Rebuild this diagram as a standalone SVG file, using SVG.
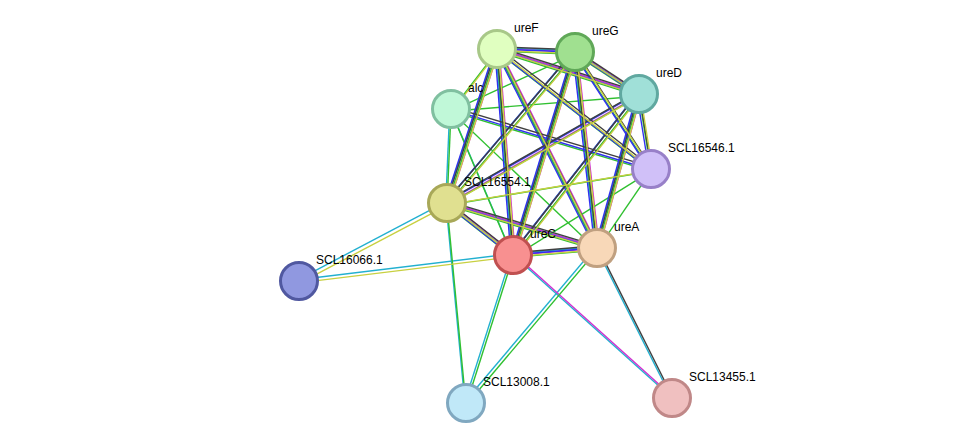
<svg xmlns="http://www.w3.org/2000/svg" width="975" height="448" viewBox="0 0 975 448">
<style>
line{stroke-width:1.4;fill:none}
.c line{stroke:#22b0d0}.m line{stroke:#d030d0}.g line{stroke:#30c030}.b line{stroke:#3030f0}.k line{stroke:#404040}.y line{stroke:#c8d040}
circle{stroke-width:3}
text{font-family:"Liberation Sans",Arial,sans-serif;font-size:12px;fill:#000}
</style>
<rect width="975" height="448" fill="#fff"/>
<g id="connectors">
<g class="c" transform="translate(-1.2,-1.2)">
<line x1="497" y1="49" x2="575" y2="52"/><line x1="497" y1="49" x2="639" y2="94"/><line x1="575" y1="52" x2="639" y2="94"/>
<line x1="497" y1="49" x2="513" y2="255"/><line x1="575" y1="52" x2="513" y2="255"/><line x1="639" y1="94" x2="513" y2="255"/>
<line x1="497" y1="49" x2="597" y2="248"/><line x1="575" y1="52" x2="597" y2="248"/><line x1="639" y1="94" x2="597" y2="248"/>
<line x1="513" y1="255" x2="597" y2="248"/><line x1="497" y1="49" x2="447" y2="203"/><line x1="575" y1="52" x2="447" y2="203"/>
<line x1="639" y1="94" x2="447" y2="203"/><line x1="447" y1="203" x2="513" y2="255"/><line x1="447" y1="203" x2="597" y2="248"/>
<line x1="451" y1="109" x2="513" y2="255"/><line x1="451" y1="109" x2="447" y2="203"/>
<line x1="299" y1="281" x2="447" y2="203"/><line x1="299" y1="281" x2="513" y2="255"/>
<line x1="466" y1="403" x2="447" y2="203"/><line x1="466" y1="403" x2="513" y2="255"/><line x1="466" y1="403" x2="597" y2="248"/>
<line x1="672" y1="398" x2="513" y2="255"/><line x1="672" y1="398" x2="597" y2="248"/>
</g>
<g class="m" transform="translate(2.2,0)">
<line x1="497" y1="49" x2="575" y2="52"/><line x1="497" y1="49" x2="639" y2="94"/><line x1="575" y1="52" x2="639" y2="94"/>
<line x1="497" y1="49" x2="513" y2="255"/><line x1="575" y1="52" x2="513" y2="255"/><line x1="639" y1="94" x2="513" y2="255"/>
<line x1="497" y1="49" x2="597" y2="248"/><line x1="575" y1="52" x2="597" y2="248"/><line x1="639" y1="94" x2="597" y2="248"/>
<line x1="513" y1="255" x2="597" y2="248"/><line x1="497" y1="49" x2="447" y2="203"/><line x1="575" y1="52" x2="447" y2="203"/>
<line x1="639" y1="94" x2="447" y2="203"/><line x1="447" y1="203" x2="513" y2="255"/><line x1="447" y1="203" x2="597" y2="248"/>
<line x1="672" y1="398" x2="513" y2="255"/>
</g>
<g class="g" transform="translate(0,2.2)">
<line x1="497" y1="49" x2="575" y2="52"/><line x1="497" y1="49" x2="639" y2="94"/><line x1="575" y1="52" x2="639" y2="94"/>
<line x1="497" y1="49" x2="513" y2="255"/><line x1="575" y1="52" x2="513" y2="255"/><line x1="639" y1="94" x2="513" y2="255"/>
<line x1="497" y1="49" x2="597" y2="248"/><line x1="575" y1="52" x2="597" y2="248"/><line x1="639" y1="94" x2="597" y2="248"/>
<line x1="513" y1="255" x2="597" y2="248"/><line x1="497" y1="49" x2="447" y2="203"/><line x1="575" y1="52" x2="447" y2="203"/>
<line x1="639" y1="94" x2="447" y2="203"/><line x1="447" y1="203" x2="513" y2="255"/><line x1="447" y1="203" x2="597" y2="248"/>
<line x1="451" y1="109" x2="497" y2="49"/><line x1="451" y1="109" x2="575" y2="52"/><line x1="451" y1="109" x2="639" y2="94"/>
<line x1="451" y1="109" x2="651" y2="169"/><line x1="451" y1="109" x2="513" y2="255"/><line x1="451" y1="109" x2="597" y2="248"/><line x1="451" y1="109" x2="447" y2="203"/>
<line x1="651" y1="169" x2="497" y2="49"/><line x1="651" y1="169" x2="575" y2="52"/><line x1="651" y1="169" x2="639" y2="94"/>
<line x1="651" y1="169" x2="513" y2="255"/><line x1="651" y1="169" x2="597" y2="248"/><line x1="651" y1="169" x2="447" y2="203"/>
<line x1="466" y1="403" x2="447" y2="203"/><line x1="466" y1="403" x2="513" y2="255"/><line x1="466" y1="403" x2="597" y2="248"/>
</g>
<g class="b" transform="translate(-2.2,0)">
<line x1="497" y1="49" x2="575" y2="52"/><line x1="497" y1="49" x2="639" y2="94"/><line x1="575" y1="52" x2="639" y2="94"/>
<line x1="497" y1="49" x2="513" y2="255"/><line x1="575" y1="52" x2="513" y2="255"/><line x1="639" y1="94" x2="513" y2="255"/>
<line x1="497" y1="49" x2="597" y2="248"/><line x1="575" y1="52" x2="597" y2="248"/><line x1="639" y1="94" x2="597" y2="248"/>
<line x1="513" y1="255" x2="597" y2="248"/><line x1="497" y1="49" x2="447" y2="203"/><line x1="575" y1="52" x2="447" y2="203"/>
<line x1="639" y1="94" x2="447" y2="203"/><line x1="447" y1="203" x2="513" y2="255"/><line x1="447" y1="203" x2="597" y2="248"/>
<line x1="451" y1="109" x2="651" y2="169"/>
<line x1="651" y1="169" x2="497" y2="49"/><line x1="651" y1="169" x2="575" y2="52"/><line x1="651" y1="169" x2="639" y2="94"/>
</g>
<g class="k" transform="translate(0,-2.2)">
<line x1="497" y1="49" x2="575" y2="52"/><line x1="497" y1="49" x2="639" y2="94"/><line x1="575" y1="52" x2="639" y2="94"/>
<line x1="497" y1="49" x2="513" y2="255"/><line x1="575" y1="52" x2="513" y2="255"/><line x1="639" y1="94" x2="513" y2="255"/>
<line x1="497" y1="49" x2="597" y2="248"/><line x1="575" y1="52" x2="597" y2="248"/><line x1="639" y1="94" x2="597" y2="248"/>
<line x1="513" y1="255" x2="597" y2="248"/><line x1="497" y1="49" x2="447" y2="203"/><line x1="575" y1="52" x2="447" y2="203"/>
<line x1="639" y1="94" x2="447" y2="203"/><line x1="447" y1="203" x2="513" y2="255"/><line x1="447" y1="203" x2="597" y2="248"/>
<line x1="451" y1="109" x2="651" y2="169"/>
<line x1="651" y1="169" x2="497" y2="49"/><line x1="651" y1="169" x2="575" y2="52"/><line x1="651" y1="169" x2="639" y2="94"/>
<line x1="672" y1="398" x2="597" y2="248"/>
</g>
<g class="y" transform="translate(1.6,1.6)">
<line x1="497" y1="49" x2="575" y2="52"/><line x1="497" y1="49" x2="639" y2="94"/><line x1="575" y1="52" x2="639" y2="94"/>
<line x1="497" y1="49" x2="513" y2="255"/><line x1="575" y1="52" x2="513" y2="255"/><line x1="639" y1="94" x2="513" y2="255"/>
<line x1="497" y1="49" x2="597" y2="248"/><line x1="575" y1="52" x2="597" y2="248"/><line x1="639" y1="94" x2="597" y2="248"/>
<line x1="513" y1="255" x2="597" y2="248"/><line x1="497" y1="49" x2="447" y2="203"/><line x1="575" y1="52" x2="447" y2="203"/>
<line x1="639" y1="94" x2="447" y2="203"/><line x1="447" y1="203" x2="513" y2="255"/><line x1="447" y1="203" x2="597" y2="248"/>
<line x1="451" y1="109" x2="497" y2="49"/>
<line x1="651" y1="169" x2="497" y2="49"/><line x1="651" y1="169" x2="575" y2="52"/><line x1="651" y1="169" x2="639" y2="94"/><line x1="651" y1="169" x2="447" y2="203"/>
<line x1="299" y1="281" x2="447" y2="203"/><line x1="299" y1="281" x2="513" y2="255"/>
</g>
</g>
<g id="ureF"><circle cx="497" cy="49" r="18.5" fill="#e0ffc0" stroke="#a8c888"/><text x="514" y="32">ureF</text></g>
<g id="ureG"><circle cx="575" cy="52" r="18.5" fill="#a0e090" stroke="#60a858"/><text x="592" y="35">ureG</text></g>
<g id="ureD"><circle cx="639" cy="94" r="18.5" fill="#a0e0d8" stroke="#60a8a0"/><text x="656" y="77">ureD</text></g>
<g id="alc"><circle cx="451" cy="109" r="18.5" fill="#c0f8d8" stroke="#80c0a0"/><text x="468" y="92">alc</text></g>
<g id="SCL16546.1"><circle cx="651" cy="169" r="18.5" fill="#d0c0f8" stroke="#9880c8"/><text x="668" y="152">SCL16546.1</text></g>
<g id="SCL16554.1"><circle cx="447" cy="203" r="18.5" fill="#e0e090" stroke="#a8a858"/><text x="464" y="186">SCL16554.1</text></g>
<g id="ureC"><circle cx="513" cy="255" r="18.5" fill="#f89090" stroke="#c05050"/><text x="530" y="238">ureC</text></g>
<g id="ureA"><circle cx="597" cy="248" r="18.5" fill="#f8d8b8" stroke="#c0a080"/><text x="614" y="231">ureA</text></g>
<g id="SCL16066.1"><circle cx="299" cy="281" r="18.5" fill="#9098e0" stroke="#5058a0"/><text x="316" y="264">SCL16066.1</text></g>
<g id="SCL13008.1"><circle cx="466" cy="403" r="18.5" fill="#c0e8f8" stroke="#80a8c0"/><text x="483" y="386">SCL13008.1</text></g>
<g id="SCL13455.1"><circle cx="672" cy="398" r="18.5" fill="#f0c0c0" stroke="#c08888"/><text x="689" y="381">SCL13455.1</text></g>
</svg>
